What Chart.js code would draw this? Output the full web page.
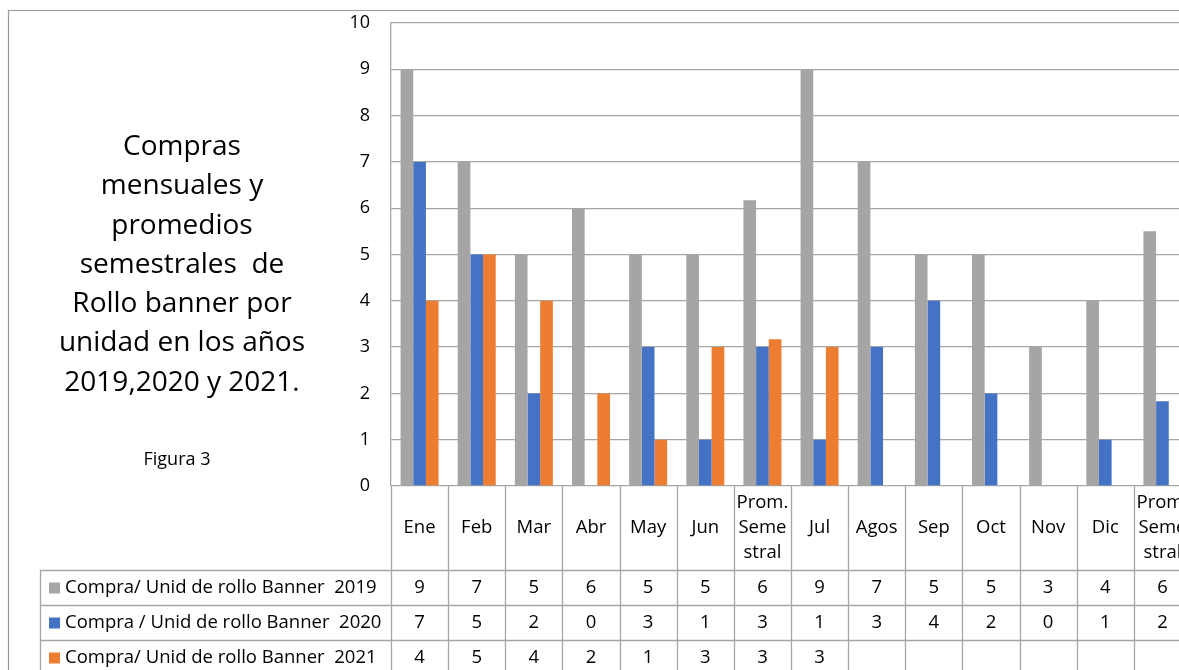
<!DOCTYPE html>
<html>
<head>
<meta charset="utf-8">
<script src="https://cdn.jsdelivr.net/npm/chart.js@4"></script>
<style>
  body { margin: 0; overflow: hidden; background: #fff; width: 1179px; height: 670px; }
  #wrap { position: absolute; left: 0; top: 0; width: 1195px; height: 670px; }
  #title {
    position: absolute; left: 22px; top: 125px; width: 320px;
    text-align: center; font: 28px "Open Sans", sans-serif;
    line-height: 39.3px; color: #000;
  }
  #fig {
    position: absolute; left: 117px; top: 446px; width: 120px;
    text-align: center; font: 18px "Open Sans", sans-serif; color: #000;
  }
</style>
</head>
<body>
<div id="wrap"><canvas id="chartBar"></canvas></div>
<div id="title">Compras<br>mensuales y<br>promedios<br>semestrales&nbsp; de<br>Rollo banner por<br>unidad en los años<br>2019,2020 y 2021.</div>
<div id="fig">Figura 3</div>
<script>
const FONT = '"Open Sans", sans-serif';

// data
const categories = ['Ene', 'Feb', 'Mar', 'Abr', 'May', 'Jun', ['Prom.', 'Seme', 'stral'],
  'Jul', 'Agos', 'Sep', 'Oct', 'Nov', 'Dic', ['Prom.', 'Seme', 'stral']];
const banner2019 = [9, 7, 5, 6, 5, 5, 6.17, 9, 7, 5, 5, 3, 4, 5.5];
const banner2020 = [7, 5, 2, 0, 3, 1, 3, 1, 3, 4, 2, 0, 1, 1.83];
const banner2021 = [4, 5, 4, 2, 1, 3, 3.17, 3, null, null, null, null, null, null];
const seriesNames = ['Compra/ Unid de rollo Banner  2019', 'Compra / Unid de rollo Banner  2020', 'Compra/ Unid de rollo Banner  2021'];
const seriesColors = ['#A5A5A5', '#4472C4', '#ED7D31'];
const yTicks = [0, 1, 2, 3, 4, 5, 6, 7, 8, 9, 10];

const series = [banner2019, banner2020, banner2021];

//data table under the plot, lined up with the x scale
const dataTable = {
  id: 'dataTable',
  afterDraw(chart) {
    const ctx = chart.ctx;
    const x = chart.scales.x;
    const area = chart.chartArea;
    const n = categories.length;
    const w = (x.right - x.left) / n;
    const rowTop = 570, rowH = 35, bottom = chart.height;
    ctx.save();

    // outer frame
    ctx.strokeStyle = '#999';
    ctx.lineWidth = 1.2;
    ctx.beginPath();
    ctx.moveTo(8.5, bottom); ctx.lineTo(8.5, 10.5); ctx.lineTo(chart.width, 10.5);
    ctx.stroke();

    ctx.strokeStyle = '#A6A6A6';
    ctx.lineWidth = 1.3;
    ctx.beginPath();
    for (let i = 0; i <= n; i++) {
      const xx = Math.round(x.left + i * w) + 0.5;
      ctx.moveTo(xx, area.bottom); ctx.lineTo(xx, bottom);
    }
    ctx.moveTo(40.5, rowTop); ctx.lineTo(40.5, bottom);
    for (let r = 0; r < 3; r++) {
      const yy = rowTop + r * rowH + 0.5;
      ctx.moveTo(40, yy); ctx.lineTo(x.right, yy);
    }
    ctx.stroke();

    ctx.fillStyle = '#000';
    ctx.textAlign = 'center';
    ctx.textBaseline = 'middle';
    ctx.font = '18.5px ' + FONT;
    categories.forEach((c, i) => {
      const cx = x.left + (i + 0.5) * w;
      if (Array.isArray(c)) {
        c.forEach((t, k) => ctx.fillText(t, cx, 503 + k * 25));
      } else {
        ctx.fillText(c, cx, 528);
      }
      series.forEach((s, r) => {
        if (s[i] !== null) ctx.fillText(Math.round(s[i]), cx, rowTop + r * rowH + 18);
      });
    });

    // legend keys in the first column
    ctx.textAlign = 'left';
    ctx.font = '18.5px ' + FONT;
    seriesNames.forEach((name, r) => {
      const cy = rowTop + r * rowH + 18;
      ctx.fillStyle = seriesColors[r];
      ctx.fillRect(49, cy - 5.5, 11, 11);
      ctx.fillStyle = '#000';
      ctx.fillText(name, 65, cy);
    });
    ctx.restore();
  }
};

const data = {
  labels: categories,
  datasets: series.map((s, i) => ({
    label: seriesNames[i],
    data: s,
    backgroundColor: seriesColors[i],
    borderWidth: 0,
    barPercentage: 1,
    categoryPercentage: 0.665,
  })),
};

const configBarChart = {
  type: 'bar',
  data,
  options: {
    responsive: true,
    maintainAspectRatio: false,
    animation: false,
    layout: { padding: { left: 351, top: 23, right: 4, bottom: 184 } },
    plugins: { legend: { display: false }, tooltip: { enabled: false } },
    scales: {
      x: {
        grid: { display: false },
        border: { display: false },
        ticks: { display: false },
        afterFit: (s) => { s.height = 0; },
      },
      y: {
        min: 0,
        max: 10,
        afterFit: (s) => { s.width = 40; s.paddingTop = 0; s.paddingBottom = 0; },
        afterBuildTicks: (s) => { s.ticks = yTicks.map(v => ({ value: v })); },
        grid: { color: '#A6A6A6', lineWidth: 1.3, drawTicks: false },
        border: { display: true, color: '#A6A6A6', width: 1.3 },
        ticks: { padding: 21, color: '#000', font: { family: FONT, size: 18 } },
      },
    },
  },
  plugins: [dataTable],
};

var chartBar = new Chart(document.getElementById('chartBar'), configBarChart);
</script>
</body>
</html>
